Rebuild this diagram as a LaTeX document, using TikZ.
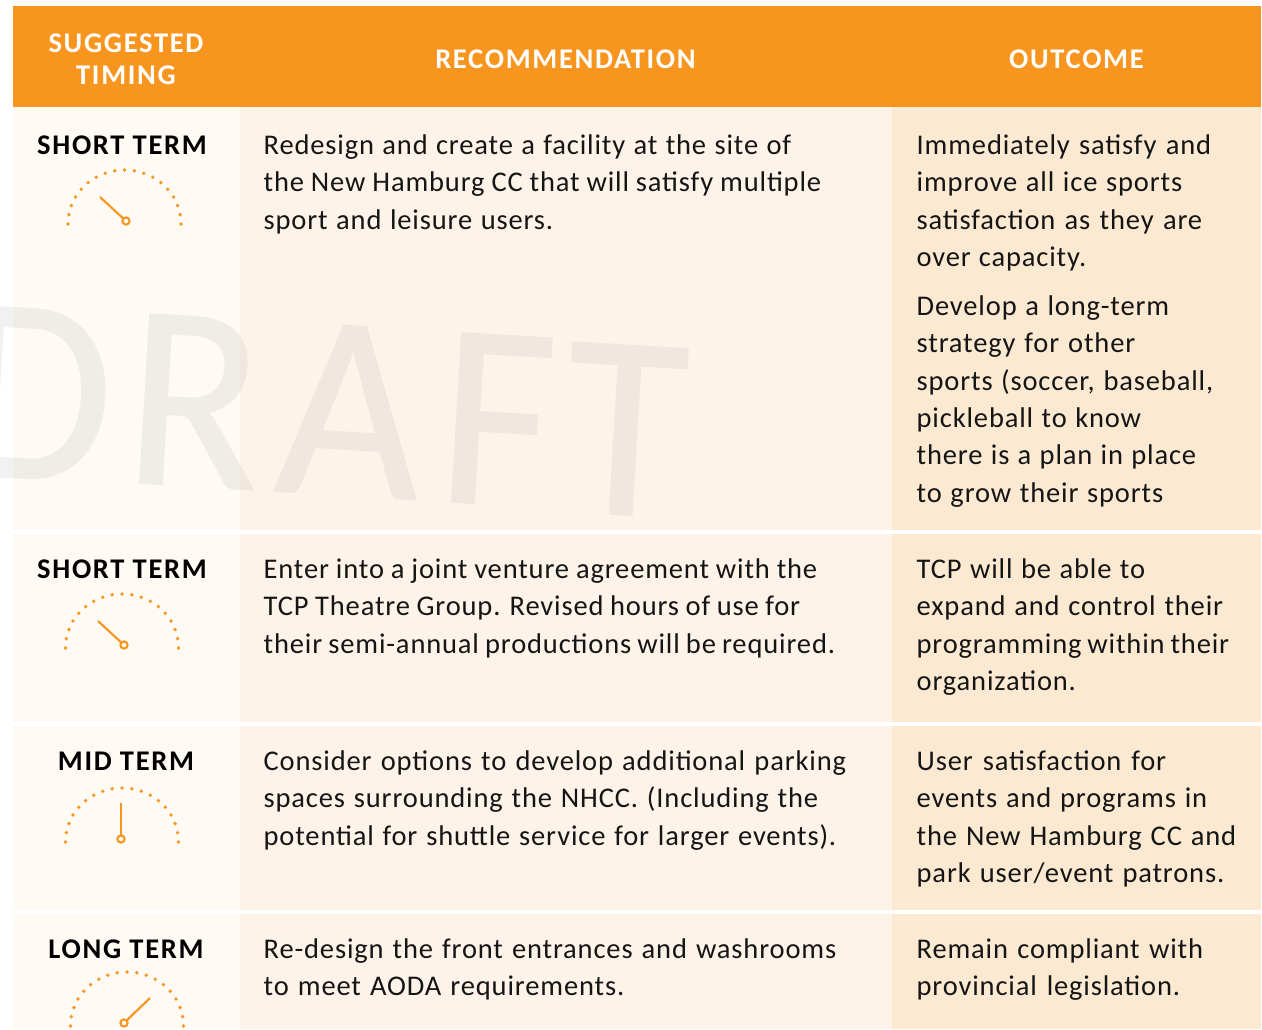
\documentclass[tikz,border=0pt]{standalone}
\usepackage{fontspec}
\setmainfont{Carlito}
\newfontfamily\bodyf[LetterSpace=3.0]{Carlito}
\newfontfamily\headf[LetterSpace=6]{Carlito}
\newfontfamily\draftf[FakeStretch=0.94,FakeBold=0.6]{Carlito}
\definecolor{hdr}{HTML}{F8951F}
\definecolor{colA}{HTML}{FFFAF4}
\definecolor{colB}{HTML}{FEF3E9}
\definecolor{colC}{HTML}{FCE9D2}
\definecolor{ink}{HTML}{151515}
\definecolor{draftc}{HTML}{B4B4B4}
\tikzset{
  x=1pt,y=-1pt,
  body/.style={anchor=north west,inner sep=0pt,align=left,text=ink,font=\bodyf\fontsize{28.5}{37.4}\selectfont},
  headtxt/.style={anchor=base,inner sep=0pt,text=white,font=\headf\bfseries\fontsize{28.5}{31}\selectfont},
  termtxt/.style={anchor=base,inner sep=0pt,text=black,font=\headf\bfseries\fontsize{28.5}{31}\selectfont},
  draftl/.style={anchor=base west,inner sep=0pt,rotate=-3.4,text=draftc,font=\draftf\fontsize{264}{264}\selectfont},
  gaugeline/.style={draw=hdr,line width=2.1pt},
  gaugedot/.style={fill=hdr,draw=none},
}
% line set to a given width
\newcommand{\fitline}[2]{\leavevmode\hbox to #1pt{\spaceskip=7pt plus 30pt minus 7pt\relax #2}}
% #1,#2 arc centre; #3,#4 pivot; #5,#6 needle tip offset
\newcommand{\gaugepic}[6]{%
  \foreach \a in {0,10,...,180}
    \fill[gaugedot] ({#1+56.5*cos(\a)},{#2-54*sin(\a)}) circle (1.9);
  \draw[gaugeline] (#3+#5,#4+#6) -- (#3,#4);
  \draw[gaugeline,fill=colA] (#3,#4) circle (3.6);
}
\begin{document}
\begin{tikzpicture}
\useasboundingbox (0,0) rectangle (1262,1029);
\clip (0,0) rectangle (1262,1029);
\fill[hdr] (13,6) rectangle (1261,107);
\foreach \t/\b in {107/530,534/722,726/910,914/1029}{
  \fill[colA] (13,\t) rectangle (240,\b);
  \fill[colB] (240,\t) rectangle (892,\b);
  \fill[colC] (892,\t) rectangle (1261,\b);
}
% watermark
\begin{scope}[transparency group,opacity=.19]
\node[draftl] (wmD) at (-45,474) {D};
\node[draftl] (wmR) at (122,482) {R};
\node[draftl] (wmA) at (273,491) {A};
\node[draftl] (wmF) at (435,501) {F};
\node[draftl] (wmT) at (560,511) {T};
\end{scope}
% header text
\node[headtxt] (h1a) at (126,52) {SUGGESTED};
\node[headtxt] (h1b) at (126,84) {TIMING};
\node[headtxt] (h2) at (565.5,68) {RECOMMENDATION};
\node[headtxt] (h3) at (1076.5,68) {OUTCOME};
% terms
\node[termtxt] (t1) at (122,154) {SHORT TERM};
\node[termtxt] (t2) at (122,578) {SHORT TERM};
\node[termtxt] (t3) at (126,770) {MID TERM};
\node[termtxt] (t4) at (126,958) {LONG TERM};
% gauges
\gaugepic{124.5}{224}{126}{221}{-26}{-24}
\gaugepic{122}{648}{124}{645}{-26}{-24}
\gaugepic{122}{842}{121}{839}{0}{-36}
\gaugepic{127}{1026}{124}{1023}{26}{-25}
% recommendation (widths = right end in the reference - 263.5)
\node[body] (r1) at (263.5,128) {\strut\fitline{527.5}{Redesign and create a facility at the site of}\\\fitline{557.5}{the New Hamburg CC that will satisfy multiple}\\\fitline{289.5}{sport and leisure users.}};
\node[body] (r2) at (263.5,552) {\strut\fitline{553.5}{Enter into a joint venture agreement with the}\\\fitline{536.5}{TCP Theatre Group. Revised hours of use for}\\\fitline{571.5}{their semi-annual productions will be required.}};
\node[body] (r3) at (263.5,744) {\strut\fitline{582.5}{Consider options to develop additional parking}\\\fitline{554.5}{spaces surrounding the NHCC. (Including the}\\\fitline{572.5}{potential for shuttle service for larger events).}};
\node[body] (r4) at (263.5,932) {\strut\fitline{572.5}{Re-design the front entrances and washrooms}\\\fitline{360.5}{to meet AODA requirements.}};
% outcome (widths = right end in the reference - 916.5)
\node[body] (o1) at (916.5,128) {\strut\fitline{294.5}{Immediately satisfy and}\\\fitline{265.5}{improve all ice sports}\\\fitline{285.5}{satisfaction as they are}\\\fitline{169.5}{over capacity.}};
\node[body] (o1b) at (916.5,289) {\strut\fitline{252.5}{Develop a long-term}\\\fitline{218.5}{strategy for other}\\\fitline{296.5}{sports (soccer, baseball,}\\\fitline{224.5}{pickleball to know}\\\fitline{279.5}{there is a plan in place}\\\fitline{246.5}{to grow their sports}};
\node[body] (o2) at (916.5,552) {\strut\fitline{228.5}{TCP will be able to}\\\fitline{306.5}{expand and control their}\\\fitline{312.5}{programming within their}\\organization.};
\node[body] (o3) at (916.5,744) {\strut\fitline{249.5}{User satisfaction for}\\\fitline{290.5}{events and programs in}\\\fitline{319.5}{the New Hamburg CC and}\\\fitline{307.5}{park user/event patrons.}};
\node[body] (o4) at (916.5,932) {\strut\fitline{286.5}{Remain compliant with}\\\fitline{263.5}{provincial legislation.}};
\end{tikzpicture}
\end{document}
